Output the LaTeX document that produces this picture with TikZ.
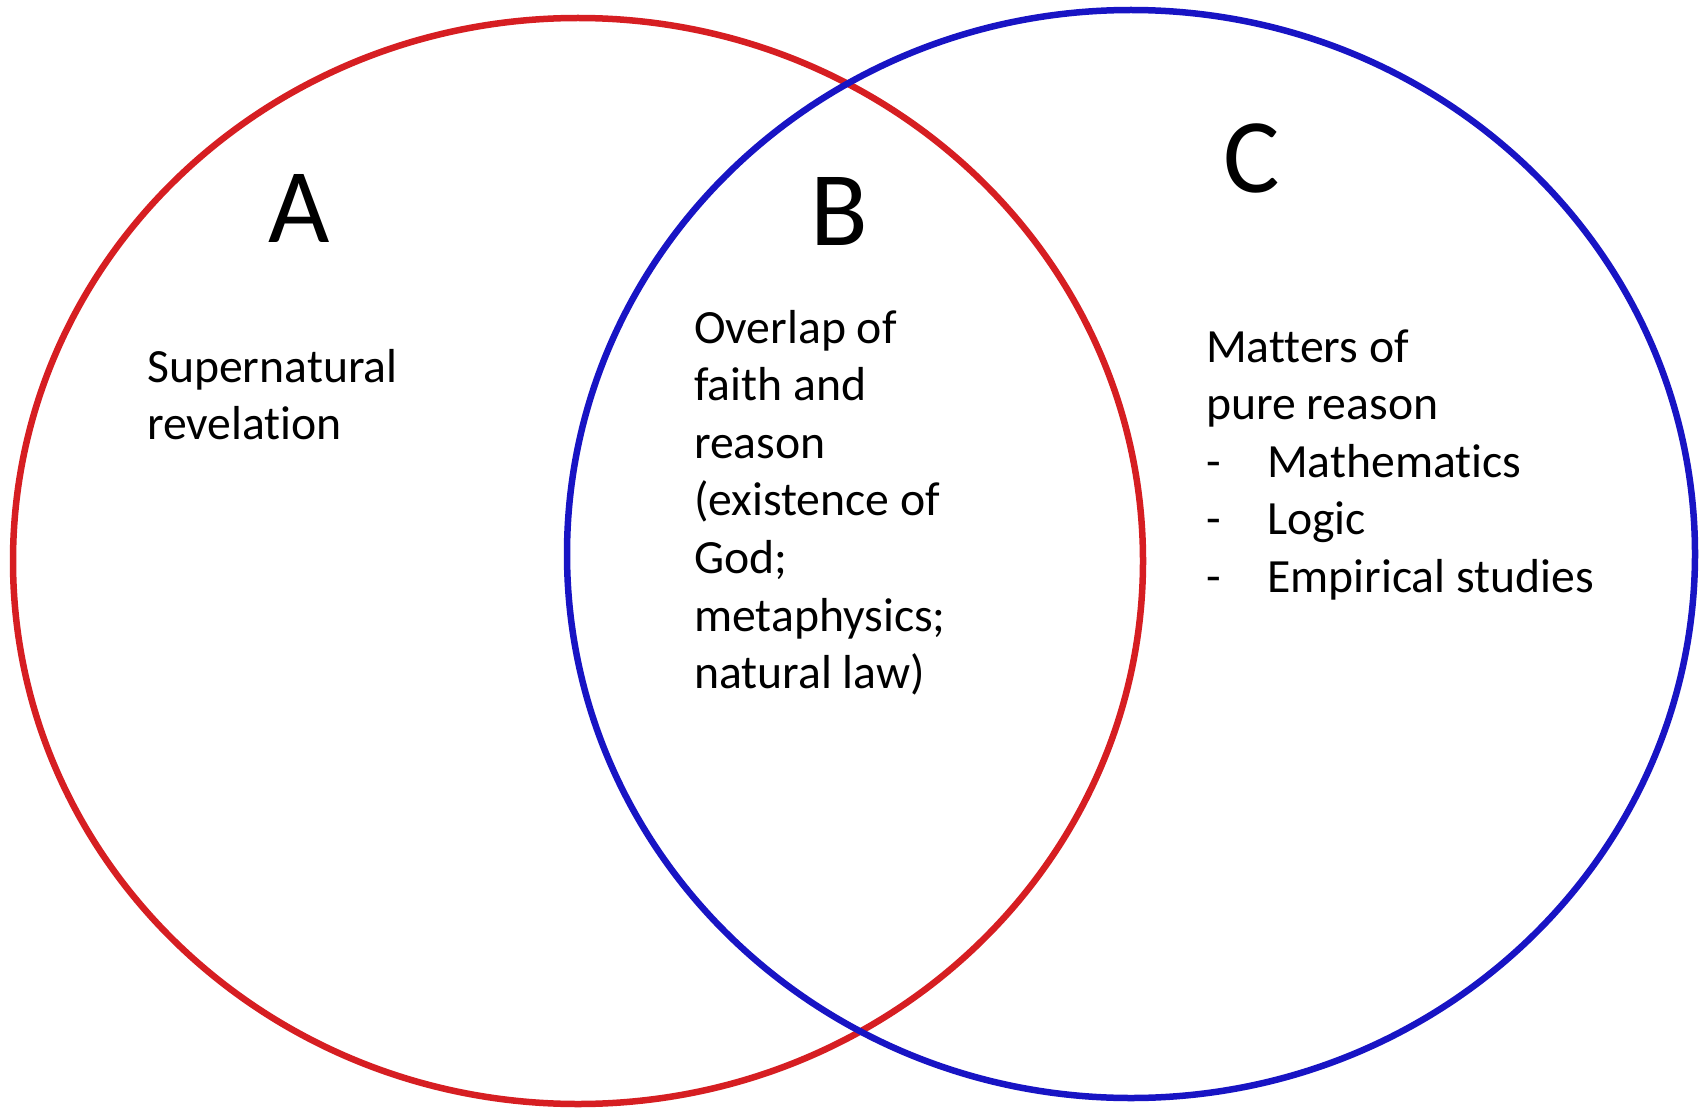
\documentclass[tikz,border=0pt]{standalone}
\usepackage{fontspec}
\setmainfont[Ligatures={NoCommon}]{Carlito}
\definecolor{vennred}{RGB}{214,30,34}
\definecolor{vennblue}{RGB}{24,20,196}
\begin{document}
\begin{tikzpicture}[x=1pt,y=-1pt,
  ring/.style={line width=6.5pt},
  biglabel/.style={anchor=base west,inner sep=0pt,font=\fontsize{106}{120}\selectfont},
  bodytext/.style={anchor=base west,inner sep=0pt,font=\fontsize{47.7}{57.6}\selectfont}]
\useasboundingbox[fill=white] (0,0) rectangle (1700,1110);
\draw[ring,vennred] (578,561) ellipse [x radius=565, y radius=543];
\draw[ring,vennblue] (1131,554) ellipse [x radius=564, y radius=544];
\node[biglabel] (A) at (268,243) {A};
\node[biglabel] (B) at (810,245) {B};
\node[biglabel] (C) at (1223,193) {C};
\node[bodytext] (textA) at (147,382) {\begin{tabular}[t]{@{}l@{}}Supernatural\\revelation\end{tabular}};
\node[bodytext] (textB) at (694,343) {\begin{tabular}[t]{@{}l@{}}Overlap of\\faith and\\reason\\(existence of\\God;\\metaphysics;\\natural law)\end{tabular}};
\node[bodytext] (textC) at (1206,362) {\begin{tabular}[t]{@{}l@{}l@{}}\multicolumn{2}{@{}l@{}}{Matters of}\\\multicolumn{2}{@{}l@{}}{pure reason}\\\makebox[61pt][l]{-}&Mathematics\\\makebox[61pt][l]{-}&Logic\\\makebox[61pt][l]{-}&Empirical studies\end{tabular}};
\end{tikzpicture}
\end{document}
